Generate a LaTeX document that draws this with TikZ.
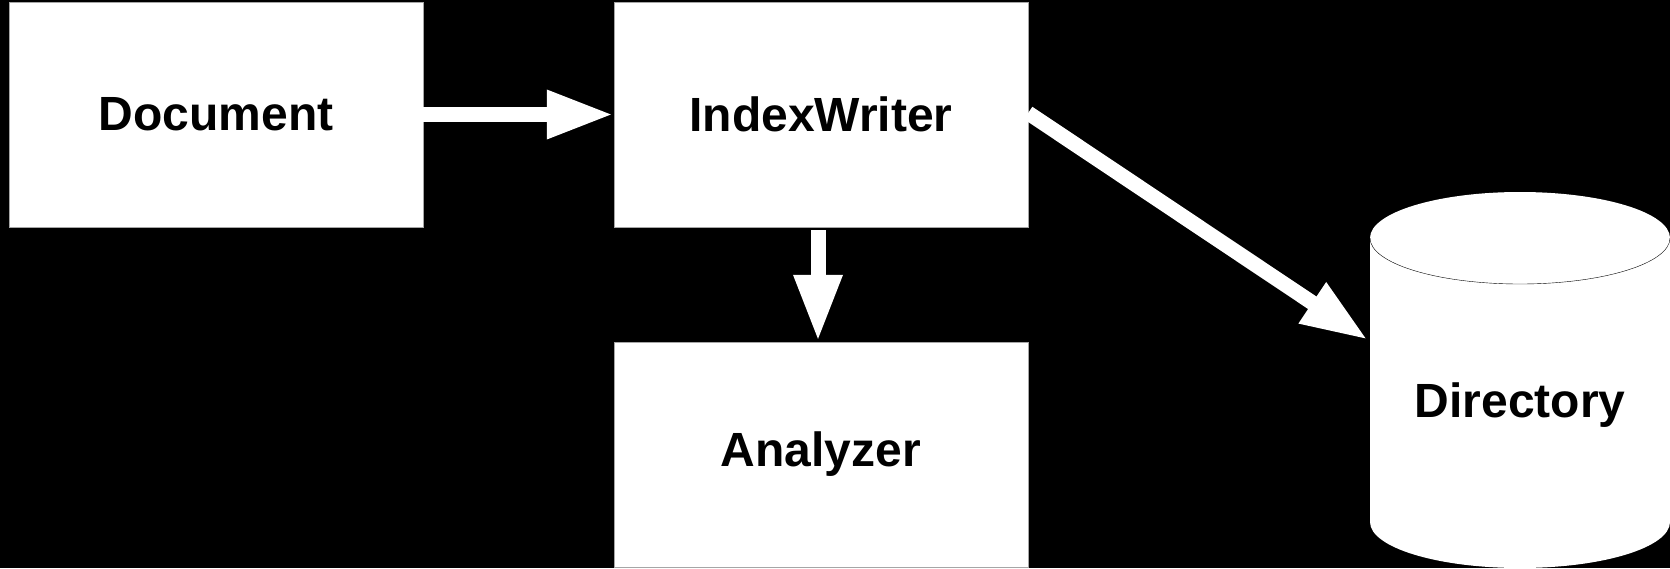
\documentclass[tikz,border=0pt]{standalone}
\usepackage{fontspec}
\setmainfont{Liberation Sans}
\usetikzlibrary{arrows.meta, positioning}

\begin{document}
\begin{tikzpicture}[x=1pt, y=-1pt,
		box/.style={draw=gray!70, thin, fill=white, minimum width=414pt, minimum height=225pt, inner sep=0pt, font=\bfseries\fontsize{48}{52}\selectfont},
		blockarrow/.style={white, line width=15pt, -{Triangle[length=67pt, width=45pt]}}]
		% Background
		\useasboundingbox (0,0) rectangle (1670,568);
		\fill[black] (0,0) rectangle (1670,568);
		
		% Boxes
		\node[box] (doc) at (216,114.5) {Document};
		\node[box] (iw) at (821,114.5) {IndexWriter};
		\node[box] (an) at (821,454.5) {Analyzer};
		
		% Directory cylinder
		\fill[white] (1370,238) rectangle (1670,522);
		\fill[white] (1520,238) ellipse (150 and 46);
		\fill[white] (1520,522) ellipse (150 and 46);
		\draw[black, thin] (1370,238) arc[start angle=180, end angle=0, x radius=150, y radius=46];
		\node[font=\bfseries\fontsize{48}{52}\selectfont] (dir) at (1520,405) {Directory};
		\coordinate (dirin) at (1368,340);
		
		% Arrows
		\draw[blockarrow] (doc.east) -- (iw.west);
		\draw[blockarrow, shorten <=3pt] ([xshift=-3pt]iw.south) -- ([xshift=-3pt]an.north);
		\draw[blockarrow] ([yshift=1.5pt]iw.east) -- (dirin);
	\end{tikzpicture}
\end{document}
